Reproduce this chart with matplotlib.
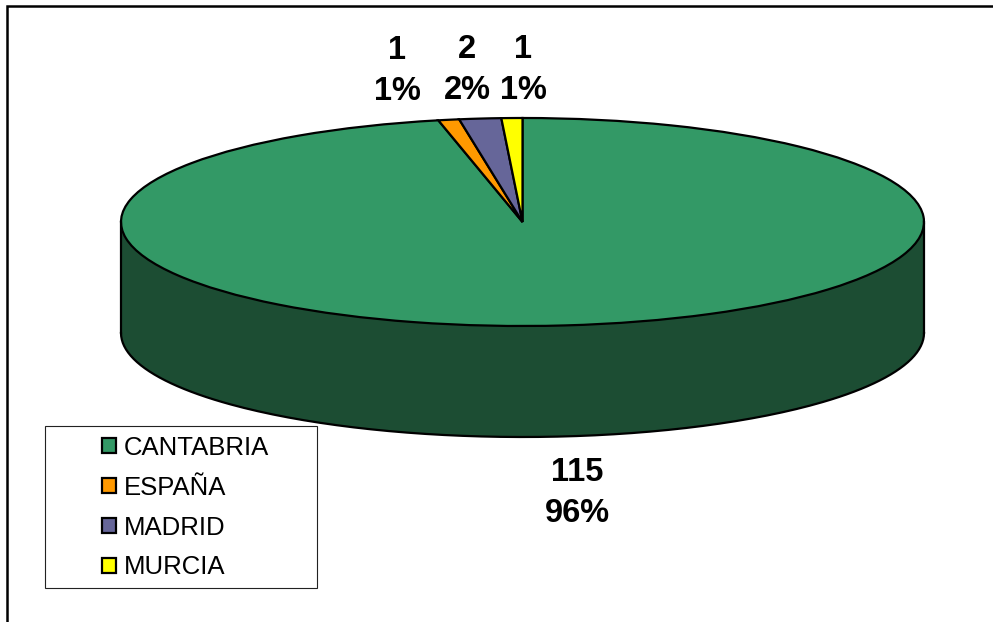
import numpy as np
import matplotlib
matplotlib.use('Agg')
import matplotlib.pyplot as plt
from matplotlib.patches import Rectangle

plt.rcParams['font.family'] = ['Liberation Sans', 'DejaVu Sans']

regions = ['CANTABRIA', 'ESPAÑA', 'MADRID', 'MURCIA']
counts = [115, 1, 2, 1]
percents = [96, 1, 2, 1]

colors = ['#339966', '#FF9900', '#666699', '#FFFF00']
side_color = '#1C4D33'

W, H = 993, 622
fig = plt.figure(figsize=(W / 100, H / 100), dpi=100)

# Background axes in pixel coordinates, for the frame, the legend box and the labels
bg = fig.add_axes([0, 0, 1, 1])
bg.set_xlim(0, W)
bg.set_ylim(H, 0)
bg.axis('off')
bg.add_patch(Rectangle((7, 6), W + 20, H + 20, facecolor='white', edgecolor='black', linewidth=1.8))
bg.add_patch(Rectangle((45, 426), 272, 162, facecolor='white', edgecolor='#222222', linewidth=0.8))

# Step 1 : pie, squashed into an ellipse
left, right, top, bottom = 121, 924, 118, 326
ax = fig.add_axes([left / W, 1 - bottom / H, (right - left) / W, (bottom - top) / H])
ax.patch.set_alpha(0)

# Step 2 : side of the disc, drawn below the top face
depth = 111 / ((bottom - top) / 2)
theta = np.linspace(np.pi, 2 * np.pi, 200)
x_edge = np.cos(theta)
y_edge = np.sin(theta)
ax.fill_between(x_edge, y_edge, y_edge - depth, facecolor=side_color, edgecolor='none', clip_on=False)
ax.plot(x_edge, y_edge - depth, color='black', linewidth=1.6, clip_on=False)
ax.plot([-1, -1], [0, -depth], color='black', linewidth=1.6, clip_on=False)
ax.plot([1, 1], [0, -depth], color='black', linewidth=1.6, clip_on=False)

wedges, _ = ax.pie(counts, colors=colors, startangle=90, counterclock=False, radius=1,
                   wedgeprops={'edgecolor': 'black', 'linewidth': 1.6, 'clip_on': False})
ax.set_aspect('auto')
ax.set_xlim(-1, 1)
ax.set_ylim(-1, 1)

# Step 3 : value labels
label_x = [577, 397, 467, 523]
label_y = [493, 71, 70, 70]
for i in range(len(counts)):
    bg.text(label_x[i], label_y[i], str(counts[i]) + '\n' + str(percents[i]) + '%',
            ha='center', va='center', fontsize=23.5, fontweight='bold',
            linespacing=1.45, color='black')

# Step 4 : legend
leg_ax = fig.add_axes([0, 0, 1, 1])
leg_ax.axis('off')
leg = leg_ax.legend(wedges, regions, loc='upper left',
                    bbox_to_anchor=(94 / W, 1 - 428 / H), frameon=False, fontsize=18.5,
                    handlelength=0.55, handleheight=0.55, handletextpad=0.3,
                    labelspacing=0.62, borderpad=0.3, borderaxespad=0)
for txt in leg.get_texts():
    txt.set_color('black')

fig.savefig('out.png', dpi=100)
